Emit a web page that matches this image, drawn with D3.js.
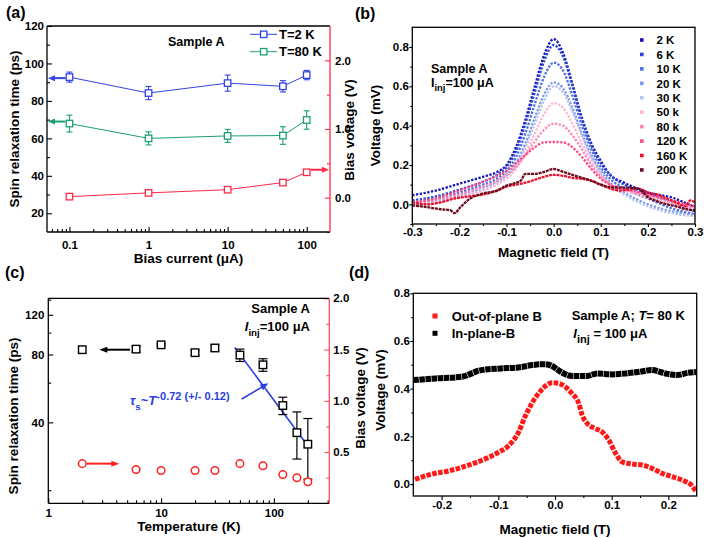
<!DOCTYPE html>
<html><head><meta charset="utf-8">
<script src="https://cdn.jsdelivr.net/npm/d3@7"></script>
<style>
body{margin:0;background:#fff;}
svg text{font-family:"Liberation Sans",Arial,Helvetica,sans-serif;font-weight:bold;}
</style></head><body>
<svg id="fig" width="709" height="538"></svg>
<script>
// ---------------- DATA ----------------
// (a)
const aCurrent = [0.1, 1, 10, 50, 100];
const aTau2K   = [92.7, 84.2, 89.5, 87.8, 93.8];
const aErr2K   = [2.7, 3.5, 4.3, 3.0, 2.5];
const aTau80K  = [67.9, 60.0, 61.3, 61.5, 69.8];
const aErr80K  = [4.5, 3.5, 3.5, 4.7, 4.9];
const aBiasV   = [0.015, 0.07, 0.116, 0.22, 0.37];
const aYTicks  = [20, 40, 60, 80, 100, 120];
const aXTicks  = [0.1, 1, 10, 100];
const aRTicks  = [0, 1, 2];
const aLegend  = ["T=2 K", "T=80 K"];

// (b)
const bLabels = ["2 K","6 K","10 K","20 K","30 K","50 k","80 k","120 K","160 K","200 K"];
const bField  = [-0.3,-0.25,-0.2,-0.15,-0.12,-0.1,-0.08,-0.06,-0.04,-0.02,0,0.02,0.04,0.06,0.08,0.1,0.12,0.15,0.2,0.25,0.3];
const bV2K   = [0.046,0.07,0.105,0.14,0.165,0.2,0.29,0.43,0.6,0.76,0.84,0.77,0.61,0.44,0.31,0.22,0.15,0.11,0.06,0.035,-0.015];
const bV6K   = [0.02,0.04,0.075,0.115,0.15,0.19,0.27,0.41,0.57,0.73,0.81,0.75,0.6,0.43,0.3,0.21,0.15,0.1,0.055,0.01,-0.035];
const bV10K  = [0.01,0.03,0.06,0.1,0.13,0.17,0.24,0.36,0.51,0.65,0.72,0.68,0.55,0.4,0.28,0.19,0.13,0.08,0.03,-0.02,-0.05];
const bV20K  = [0.0,0.02,0.045,0.085,0.115,0.15,0.21,0.31,0.44,0.56,0.62,0.59,0.49,0.36,0.25,0.17,0.11,0.06,0.0,-0.035,-0.055];
const bV30K  = [-0.01,0.005,0.035,0.075,0.105,0.135,0.19,0.29,0.41,0.53,0.6,0.57,0.47,0.35,0.24,0.16,0.1,0.05,-0.01,-0.045,-0.06];
const bV50K  = [0.0,0.01,0.035,0.07,0.1,0.13,0.18,0.26,0.36,0.46,0.515,0.49,0.41,0.31,0.22,0.15,0.1,0.07,0.035,0.0,-0.02];
const bV80K  = [0.01,0.025,0.05,0.09,0.12,0.15,0.19,0.25,0.32,0.38,0.41,0.4,0.35,0.28,0.2,0.14,0.1,0.075,0.045,0.01,-0.02];
const bV120K = [0.01,0.03,0.07,0.115,0.145,0.17,0.21,0.25,0.29,0.315,0.317,0.315,0.29,0.24,0.18,0.13,0.1,0.08,0.05,0.02,-0.01];
const bField160 = [-0.3,-0.27,-0.24,-0.21,-0.18,-0.15,-0.12,-0.1,-0.08,-0.06,-0.04,-0.02,0,0.02,0.04,0.06,0.08,0.1,0.12,0.14,0.16,0.18,0.2,0.22,0.24,0.26,0.28,0.29,0.3];
const bV160K    = [0.01,0.0,0.01,0.03,0.04,0.05,0.07,0.09,0.1,0.11,0.125,0.14,0.15,0.145,0.135,0.13,0.12,0.1,0.08,0.07,0.075,0.08,0.06,0.05,0.03,0.01,-0.01,0.02,0.01];
const bField200 = [-0.3,-0.27,-0.24,-0.22,-0.21,-0.2,-0.18,-0.15,-0.12,-0.1,-0.08,-0.07,-0.06,-0.04,-0.02,0,0.02,0.04,0.06,0.08,0.1,0.12,0.14,0.16,0.18,0.2,0.22,0.24,0.26,0.28,0.3];
const bV200K    = [-0.005,-0.014,-0.025,-0.03,-0.045,-0.02,0.025,0.055,0.07,0.095,0.11,0.12,0.155,0.155,0.165,0.18,0.165,0.15,0.135,0.12,0.1,0.088,0.085,0.085,0.08,0.037,0.015,0.0,-0.01,-0.025,-0.03];
const bYTicks = [0, 0.2, 0.4, 0.6, 0.8];
const bXTicks = [-0.3,-0.2,-0.1,0,0.1,0.2,0.3];

// (c)
const cTemp   = [2, 6, 10, 20, 30, 50, 80, 120, 160, 200];
const cTau    = [84, 84.5, 88.3, 81.5, 85.5, 79.5, 72, 47.5, 36, 32];
const cErr    = [0, 2.5, 1, 2, 2.5, 5, 4.6, 4.2, 8.5, 9.6];
const cBiasV  = [0.387, 0.33, 0.32, 0.32, 0.32, 0.387, 0.367, 0.28, 0.25, 0.21];
const cFitT   = [45, 200];
const cFitTau = [86, 31.5];
const cYTicks = [40, 80, 120];
const cXTicks = [1, 10, 100];
const cRTicks = [0.5, 1.0, 1.5, 2.0];

// (d)
const dInField  = [-0.25,-0.21,-0.165,-0.13,-0.095,-0.065,-0.04,-0.02,-0.005,0.01,0.03,0.055,0.075,0.1,0.125,0.15,0.17,0.195,0.215,0.235,0.25];
const dInV      = [0.436,0.443,0.45,0.478,0.485,0.489,0.499,0.503,0.495,0.471,0.453,0.453,0.464,0.46,0.464,0.471,0.478,0.464,0.457,0.467,0.47];
const dOutField = [-0.247,-0.217,-0.188,-0.158,-0.129,-0.1,-0.082,-0.064,-0.053,-0.041,-0.029,-0.017,-0.005,0.007,0.018,0.03,0.042,0.048,0.057,0.071,0.083,0.095,0.107,0.118,0.136,0.154,0.171,0.189,0.207,0.224,0.242,0.249];
const dOutV     = [0.02,0.042,0.055,0.075,0.1,0.133,0.161,0.219,0.282,0.338,0.38,0.411,0.425,0.422,0.408,0.38,0.338,0.289,0.254,0.233,0.219,0.184,0.129,0.094,0.084,0.08,0.066,0.045,0.031,0.017,-0.008,-0.032];
const dYTicks = [0, 0.2, 0.4, 0.6, 0.8];
const dXTicks = [-0.2,-0.1,0,0.1,0.2];

// ---------------- HELPERS ----------------
const svg = d3.select("#fig");
const fmt1 = d => d3.format(".1f")(d).replace("\u2212","-");
function styleAxis(g, color="#000", size=11.5){
  g.attr("font-family",null).attr("font-size",null);
  g.select(".domain").remove();
  g.selectAll(".tick line").attr("stroke",color).attr("stroke-width",1.1);
  g.selectAll(".tick text").attr("font-size",size).attr("fill","#000");
}
function logMinors(lo,hi){
  const out=[];
  for(let e=-3;e<4;e++) for(let k=2;k<=9;k++){const v=+(k*Math.pow(10,e)).toPrecision(3); if(v>lo&&v<hi) out.push(v);}
  return out;
}
function rich(parent,x,y,segs,o={}){
  const size=o.size||13;
  const t=parent.append("text").attr("x",x).attr("y",y).attr("font-size",size)
    .attr("fill",o.fill||"#000").attr("text-anchor",o.anchor||"start");
  if(o.rotate) t.attr("transform",`rotate(${o.rotate},${x},${y})`);
  let shift=0;
  segs.forEach(s=>{
    if(typeof s==="string") s={t:s};
    const sp=t.append("tspan").text(s.t);
    const target=s.sub?size*0.35:(s.sup?-size*0.42:0);
    if(target!==shift){sp.attr("dy",target-shift);shift=target;}
    if(s.sub||s.sup) sp.attr("font-size",size*(s.scale||0.75));
    if(s.italic) sp.attr("font-style","italic");
  });
  return t;
}
function arrow(g,x1,y1,x2,y2,color,hl=8,hw=7,sw=1.8){
  const a=Math.atan2(y2-y1,x2-x1), c=Math.cos(a), s=Math.sin(a);
  const bx=x2-hl*c, by=y2-hl*s;
  g.append("line").attr("x1",x1).attr("y1",y1).attr("x2",bx+c).attr("y2",by+s).attr("stroke",color).attr("stroke-width",sw);
  g.append("path").attr("d",`M${x2},${y2}L${bx-hw/2*s},${by+hw/2*c}L${bx+hw/2*s},${by-hw/2*c}Z`).attr("fill",color);
}
function hline(g,x1,x2,y,color="#000",w=1.3){g.append("line").attr("x1",x1).attr("x2",x2).attr("y1",y).attr("y2",y).attr("stroke",color).attr("stroke-width",w);}
function vline(g,x,y1,y2,color="#000",w=1.3){g.append("line").attr("x1",x).attr("x2",x).attr("y1",y1).attr("y2",y2).attr("stroke",color).attr("stroke-width",w);}
function errBars(g,xs,ys,errs,x,y,color,cap,w=1.1){
  xs.forEach((xv,i)=>{
    if(!errs[i]) return;
    const px=x(xv), y1=y(ys[i]+errs[i]), y2=y(ys[i]-errs[i]);
    vline(g,px,y1,y2,color,w);
    hline(g,px-cap/2,px+cap/2,y1,color,w);
    hline(g,px-cap/2,px+cap/2,y2,color,w);
  });
}
function squares(g,xs,ys,x,y,color,size,sw=1.3){
  g.selectAll(null).data(ys).join("rect")
    .attr("x",(d,i)=>x(xs[i])-size/2).attr("y",d=>y(d)-size/2)
    .attr("width",size).attr("height",size).attr("fill","#fff").attr("stroke",color).attr("stroke-width",sw);
}

// ---------------- PANEL LETTERS ----------------
svg.append("text").attr("x",6).attr("y",18).attr("font-size",16).text("(a)");
svg.append("text").attr("x",355).attr("y",19).attr("font-size",16).text("(b)");
svg.append("text").attr("x",5).attr("y",278).attr("font-size",16).text("(c)");
svg.append("text").attr("x",349).attr("y",278).attr("font-size",16).text("(d)");

// ---------------- PANEL A ----------------
{
  const L=47,R=330,T=26,B=232;
  const BLUE="#3044e0", GREEN="#1c9e76", RED="#ff2a48";
  const x=d3.scaleLog().domain([0.052,197]).range([L,R]);
  const yL=d3.scaleLinear().domain([10,120]).range([B,T]);
  const yR=d3.scaleLinear().domain([-0.5,2.5]).range([B,T]);
  const g=svg.append("g");
  g.append("g").attr("transform",`translate(${L},0)`).call(d3.axisLeft(yL).tickValues(aYTicks).tickSize(-5).tickPadding(3)).call(styleAxis);
  g.append("g").attr("transform",`translate(${L},0)`).call(d3.axisLeft(yL).tickValues([30,50,70,90,110]).tickSize(-3).tickFormat("")).call(styleAxis);
  g.append("g").attr("transform",`translate(0,${B})`).call(d3.axisBottom(x).tickValues(aXTicks).tickSize(-5).tickPadding(8.5).tickFormat(d=>String(d))).call(styleAxis);
  g.append("g").attr("transform",`translate(0,${B})`).call(d3.axisBottom(x).tickValues(logMinors(0.052,197)).tickSize(-3).tickFormat("")).call(styleAxis);
  g.append("g").attr("transform",`translate(${R},0)`).call(d3.axisRight(yR).tickValues(aRTicks).tickSize(-5).tickPadding(5)).call(s=>styleAxis(s,RED));
  g.append("g").attr("transform",`translate(${R},0)`).call(d3.axisRight(yR).tickValues([-0.5,0.5,1.5]).tickSize(-3).tickFormat("")).call(s=>styleAxis(s,RED));
  vline(g,L,T,B); hline(g,L,R,B); hline(g,L,R,T); vline(g,R,T,B,RED);

  const line=(ys,y)=>d3.line().x((d,i)=>x(aCurrent[i])).y(d=>y(d))(ys);
  [[aTau2K,aErr2K,BLUE],[aTau80K,aErr80K,GREEN]].forEach(([ys,es,c])=>{
    g.append("path").attr("d",line(ys,yL)).attr("fill","none").attr("stroke",c).attr("stroke-width",1);
    errBars(g,aCurrent,ys,es,x,yL,c,6);
    squares(g,aCurrent,ys,x,yL,c,6.5);
  });
  g.append("path").attr("d",line(aBiasV,yR)).attr("fill","none").attr("stroke",RED).attr("stroke-width",1);
  squares(g,aCurrent,aBiasV,x,yR,RED,6.5);
  // arrows
  arrow(g,x(aCurrent[0])-4,yL(aTau2K[0])+1,L+1,yL(aTau2K[0])+1,BLUE,7,6,2);
  arrow(g,x(aCurrent[0])-4,yL(aTau80K[0])-2,L+1,yL(aTau80K[0])-2,GREEN,7,6,2);
  arrow(g,x(aCurrent[4])+4,yR(aBiasV[4])-2.5,R-1,yR(aBiasV[4])-2.5,RED,7,6,2);
  // legend
  [[BLUE,34.3],[GREEN,51.7]].forEach(([c,yy],i)=>{
    hline(g,250,277,yy,c,1);
    g.append("rect").attr("x",260.5).attr("y",yy-3.2).attr("width",6.4).attr("height",6.4).attr("fill","#fff").attr("stroke",c).attr("stroke-width",1.3);
    g.append("text").attr("x",279).attr("y",yy+4.6).attr("font-size",13).text(aLegend[i]);
  });
  g.append("text").attr("x",168).attr("y",46).attr("font-size",12.5).text("Sample A");
  // titles
  g.append("text").attr("x",188.5).attr("y",263).attr("text-anchor","middle").attr("font-size",13.5).text("Bias current (\u03bcA)");
  rich(g,19,129,["Spin relaxation time (ps)"],{size:13.5,anchor:"middle",rotate:-90});
  rich(g,353.5,130,["Bias voltage (V)"],{size:13.5,anchor:"middle",rotate:-90});
}

// ---------------- PANEL B ----------------
{
  const L=412.3,R=695,T=27.3,B=224;
  const x=d3.scaleLinear().domain([-0.3,0.3]).range([L,R]);
  const y=d3.scaleLinear().domain([-0.1,0.9]).range([B,T]);
  const g=svg.append("g");
  g.append("defs").append("clipPath").attr("id","clipB").append("rect").attr("x",L).attr("y",T).attr("width",R-L).attr("height",B-T);
  g.append("g").attr("transform",`translate(${L},0)`).call(d3.axisLeft(y).tickValues(bYTicks).tickSize(3).tickPadding(0.5).tickFormat(fmt1)).call(styleAxis);
  g.append("g").attr("transform",`translate(${L},0)`).call(d3.axisLeft(y).tickValues([-0.1,0.1,0.3,0.5,0.7]).tickSize(2).tickFormat("")).call(styleAxis);
  g.append("g").attr("transform",`translate(0,${B})`).call(d3.axisBottom(x).tickValues(bXTicks).tickSize(3).tickPadding(0.5).tickFormat(fmt1)).call(styleAxis);
  g.append("g").attr("transform",`translate(0,${B})`).call(d3.axisBottom(x).tickValues([-0.25,-0.15,-0.05,0.05,0.15,0.25]).tickSize(2).tickFormat("")).call(styleAxis);

  const colors=["#1616b8","#2a42d8","#4e6ee2","#7e98ea","#b6c4f2","#ffb6d4","#ff88b8","#ff4a80","#e8122e","#6a0c1c"];
  const series=[
    [bField,bV2K],[bField,bV6K],[bField,bV10K],[bField,bV20K],[bField,bV30K],
    [bField,bV50K],[bField,bV80K],[bField,bV120K],[bField160,bV160K],[bField200,bV200K]
  ];
  const cg=g.append("g").attr("clip-path","url(#clipB)");
  series.forEach(([fx,vy],i)=>{
    const ln=d3.line().curve(d3.curveMonotoneX).x((d,j)=>x(fx[j])).y(d=>y(d));
    cg.append("path").attr("d",ln(vy)).attr("fill","none").attr("stroke",colors[i])
      .attr("stroke-width",2.3).attr("stroke-dasharray", i>=8?"3,0.8":"2.3,1.5");
  });
  g.append("rect").attr("x",L).attr("y",T).attr("width",R-L).attr("height",B-T).attr("fill","none").attr("stroke","#000").attr("stroke-width",1.3);
  // legend
  bLabels.forEach((lb,i)=>{
    const yy=40+i*14.44;
    g.append("rect").attr("x",640).attr("y",yy-1.8).attr("width",3.6).attr("height",3.6).attr("fill",colors[i]);
    g.append("text").attr("x",656.5).attr("y",yy+4.2).attr("font-size",11.5).text(lb);
  });
  g.append("text").attr("x",431).attr("y",72.5).attr("font-size",12.5).text("Sample A");
  rich(g,431,86.5,["I",{t:"inj",sub:true},{t:"=100 \u03bcA"}],{size:12.5});
  g.append("text").attr("x",553.6).attr("y",257.3).attr("text-anchor","middle").attr("font-size",13.5).text("Magnetic field (T)");
  rich(g,379.8,125.6,["Voltage (mV)"],{size:13.5,anchor:"middle",rotate:-90});
}

// ---------------- PANEL C ----------------
{
  const L=48.3,R=329.3,T=298.3,B=503.3;
  const RED="#ff2222", RAX="#ff4d63", BLUE="#2a3fe0";
  const x=d3.scaleLog().domain([1,310]).range([L,R]);
  const yL=d3.scaleLog().domain([17.5,142]).range([B,T]);
  const yR=d3.scaleLinear().domain([0,2]).range([B,T]);
  const g=svg.append("g");
  g.append("g").attr("transform",`translate(${L},0)`).call(d3.axisLeft(yL).tickValues(cYTicks).tickSize(-5).tickPadding(4).tickFormat(d=>String(d))).call(styleAxis);
  g.append("g").attr("transform",`translate(${L},0)`).call(d3.axisLeft(yL).tickValues([20,60,100,140]).tickSize(-3).tickFormat("")).call(styleAxis);
  g.append("g").attr("transform",`translate(0,${B})`).call(d3.axisBottom(x).tickValues(cXTicks).tickSize(-5).tickPadding(6).tickFormat(d=>String(d))).call(styleAxis);
  g.append("g").attr("transform",`translate(0,${B})`).call(d3.axisBottom(x).tickValues(logMinors(1,310)).tickSize(-3).tickFormat("")).call(styleAxis);
  g.append("g").attr("transform",`translate(${R},0)`).call(d3.axisRight(yR).tickValues(cRTicks).tickSize(-5).tickPadding(4).tickFormat(fmt1)).call(s=>styleAxis(s,RAX));
  g.append("g").attr("transform",`translate(${R},0)`).call(d3.axisRight(yR).tickValues([0.25,0.75,1.25,1.75])).call(s=>{}).remove();
  g.append("g").attr("transform",`translate(${R},0)`).call(d3.axisRight(yR).tickValues([0.25,0.75,1.25,1.75]).tickSize(-3).tickFormat("")).call(s=>styleAxis(s,RAX));
  vline(g,L,T,B); hline(g,L,R,B); hline(g,L,R,T); vline(g,R,T,B,RAX);

  // fit line
  g.append("path").attr("d",d3.line().x((d,i)=>x(cFitT[i])).y(d=>yL(d))(cFitTau)).attr("stroke",BLUE).attr("stroke-width",1.6).attr("fill","none");
  errBars(g,cTemp,cTau,cErr,x,yL,"#000",9,1.2);
  squares(g,cTemp,cTau,x,yL,"#000",7.5,1.4);
  g.selectAll(null).data(cBiasV).join("circle")
    .attr("cx",(d,i)=>x(cTemp[i])).attr("cy",d=>yR(d)).attr("r",3.8)
    .attr("fill","#fff").attr("stroke",RED).attr("stroke-width",1.5);
  // arrows
  arrow(g,130,yL(cTau[0]),99.3,yL(cTau[0]),"#000",8,6,2);
  arrow(g,x(cTemp[0])+4,yR(cBiasV[0]),119.3,yR(cBiasV[0]),RED,8,6,2);
  arrow(g,241.7,399,268.3,383.3,BLUE,8,6.5,1.6);
  // texts
  g.append("text").attr("x",310).attr("y",312.8).attr("text-anchor","end").attr("font-size",13).text("Sample A");
  rich(g,310,331,[{t:"I",italic:true},{t:"inj",sub:true},{t:"=100 \u03bcA"}],{size:13,anchor:"end"});
  rich(g,130,405,[{t:"\u03c4",italic:true},{t:"s",sub:true},{t:"~"},{t:"T",italic:true},{t:"-0.72 (+/- 0.12)",sup:true,scale:0.85}],{size:13,fill:BLUE});
  g.append("text").attr("x",188.8).attr("y",531.3).attr("text-anchor","middle").attr("font-size",13.5).text("Temperature (K)");
  rich(g,17.8,416,["Spin relaxation time (ps)"],{size:13.5,anchor:"middle",rotate:-90});
  rich(g,364.8,398,["Bias voltage (V)"],{size:13.5,anchor:"middle",rotate:-90});
}

// ---------------- PANEL D ----------------
{
  const L=413.3,R=696.7,T=293.3,B=496;
  const RED="#ff1a1a";
  const x=d3.scaleLinear().domain([-0.25,0.25]).range([L,R]);
  const y=d3.scaleLinear().domain([-0.05,0.8]).range([B,T]);
  const g=svg.append("g");
  g.append("defs").append("clipPath").attr("id","clipD").append("rect").attr("x",L).attr("y",T).attr("width",R-L).attr("height",B-T);
  g.append("rect").attr("x",L).attr("y",T).attr("width",R-L).attr("height",B-T).attr("fill","#fff");
  g.append("g").attr("transform",`translate(${L},0)`).call(d3.axisLeft(y).tickValues(dYTicks).tickSize(3).tickPadding(0.5).tickFormat(fmt1)).call(styleAxis);
  g.append("g").attr("transform",`translate(${L},0)`).call(d3.axisLeft(y).tickValues([0.1,0.3,0.5,0.7]).tickSize(2).tickFormat("")).call(styleAxis);
  g.append("g").attr("transform",`translate(0,${B})`).call(d3.axisBottom(x).tickValues(dXTicks).tickSize(4).tickPadding(1).tickFormat(fmt1)).call(styleAxis);
  g.append("g").attr("transform",`translate(0,${B})`).call(d3.axisBottom(x).tickValues([-0.15,-0.05,0.05,0.15]).tickSize(2).tickFormat("")).call(styleAxis);
  const cg=g.append("g").attr("clip-path","url(#clipD)");
  const ln=(fx)=>d3.line().curve(d3.curveMonotoneX).x((d,j)=>x(fx[j])).y(d=>y(d));
  cg.append("path").attr("d",ln(dInField)(dInV)).attr("fill","none").attr("stroke","#000").attr("stroke-width",6).attr("stroke-dasharray","5.5,0.6");
  cg.append("path").attr("d",ln(dOutField)(dOutV)).attr("fill","none").attr("stroke",RED).attr("stroke-width",5).attr("stroke-dasharray","4.6,1.4");
  g.append("rect").attr("x",L).attr("y",T).attr("width",R-L).attr("height",B-T).attr("fill","none").attr("stroke","#000").attr("stroke-width",1.3);
  // legend
  [[RED,316,"Out-of-plane B"],["#000",333.3,"In-plane-B"]].forEach(([c,yy,lb])=>{
    g.append("rect").attr("x",432.5).attr("y",yy-2.5).attr("width",5).attr("height",5).attr("fill",c);
    g.append("text").attr("x",451.7).attr("y",yy+4.6).attr("font-size",13).text(lb);
  });
  rich(g,571.7,319.6,["Sample A; ",{t:"T",italic:true},"= 80 K"],{size:13});
  rich(g,573.3,338,[{t:"I",italic:true},{t:"inj",sub:true,scale:0.85},{t:" = 100 \u03bcA"}],{size:13});
  g.append("text").attr("x",555).attr("y",533.6).attr("text-anchor","middle").attr("font-size",13.5).text("Magnetic field (T)");
  rich(g,384.8,390,["Voltage (mV)"],{size:13.5,anchor:"middle",rotate:-90});
}
</script>
</body></html>
